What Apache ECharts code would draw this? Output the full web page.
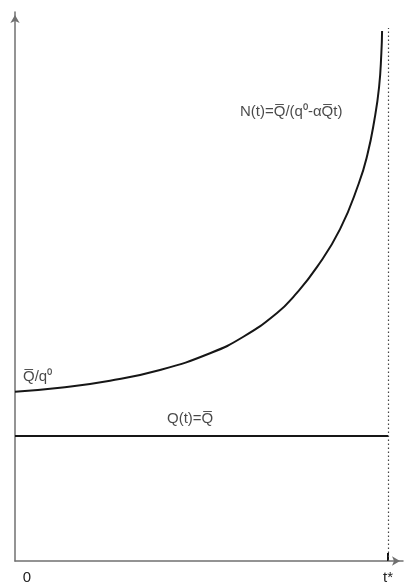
<!DOCTYPE html>
<html><head><meta charset="utf-8">
<script src="https://cdn.jsdelivr.net/npm/echarts@6/dist/echarts.min.js"></script>
<style>html,body{margin:0;padding:0;background:#fff}#c{width:410px;height:586px}</style>
</head><body><div id="c"></div>
<script>
// time in units of t*, values in units of Q̄
const curveT = [0, 0.1206, 0.2547, 0.3887, 0.5228, 0.6121, 0.7016, 0.7507, 0.8097, 0.8713, 0.9214, 0.9445, 0.9633, 0.9759, 0.9820, 0.9839];
const curveN = [1.354, 1.386, 1.442, 1.528, 1.662, 1.794, 1.982, 2.129, 2.353, 2.655, 3.02, 3.25, 3.528, 3.792, 4.064, 4.24];
const qT = [0, 1];
const qN = [1, 1];
const tStar = 1;
const dottedTop = 4.264;
const xTickLabels = ['0', 't*'];
const labelTexts = ['N(t)=Q\u0305/(q\u2070-\u03b1Q\u0305t)', 'Q\u0305/q\u2070', 'Q(t)=Q\u0305'];
const labelPos = [[0.603, 3.592], [0.0214, 1.472], [0.4075, 1.136]];

const chart = echarts.init(document.getElementById('c'), null, {renderer: 'canvas'});
const font = 'Liberation Sans, Arial, sans-serif';
chart.setOption({
  animation: false,
  backgroundColor: '#fff',
  grid: {left: 15, right: 7, top: 12, bottom: 25, containLabel: false},
  xAxis: {
    type: 'value', min: 0, max: 1.04, interval: 1,
    splitLine: {show: false},
    axisLine: {show: true, lineStyle: {color: '#707070', width: 1.5}, symbol: ['none', 'arrow'], symbolSize: [7, 8], symbolOffset: [0, -3]},
    axisTick: {show: true, inside: true, length: 8, lineStyle: {color: '#111', width: 2}, customValues: [tStar]},
    axisLabel: {
      customValues: [0, tStar],
      margin: 9,
      fontFamily: font, fontSize: 15, color: '#222',
      formatter: v => v === 0 ? '{z|' + xTickLabels[0] + '}' : xTickLabels[1],
      rich: {z: {padding: [0, 0, 0, 24], fontFamily: font, fontSize: 15, color: '#222'}}
    }
  },
  yAxis: {
    type: 'value', min: 0, max: 4.392,
    splitLine: {show: false},
    axisLine: {show: true, lineStyle: {color: '#707070', width: 1.5}, symbol: ['none', 'arrow'], symbolSize: [7, 8], symbolOffset: [0, -3]},
    axisTick: {show: false},
    axisLabel: {show: false}
  },
  series: [
    {
      type: 'line', smooth: 0.5, symbol: 'none',
      data: curveT.map((t, i) => [t, curveN[i]]),
      lineStyle: {color: '#161616', width: 2},
      markLine: {
        silent: true, symbol: ['none', 'none'], label: {show: false},
        lineStyle: {type: [1.5, 2.5], color: '#444', width: 1.2},
        data: [[{coord: [tStar, 0]}, {coord: [tStar, dottedTop]}]]
      }
    },
    {
      type: 'line', symbol: 'none',
      data: qT.map((t, i) => [t, qN[i]]),
      lineStyle: {color: '#161616', width: 2}
    },
    {
      type: 'scatter', symbolSize: 0,
      data: labelPos.map((p, i) => ({value: p, label: {formatter: labelTexts[i]}})),
      label: {show: true, position: 'inside', align: 'left', verticalAlign: 'middle', fontFamily: font, fontSize: 15, color: '#1a1a1a'}
    }
  ]
});
</script></body></html>
